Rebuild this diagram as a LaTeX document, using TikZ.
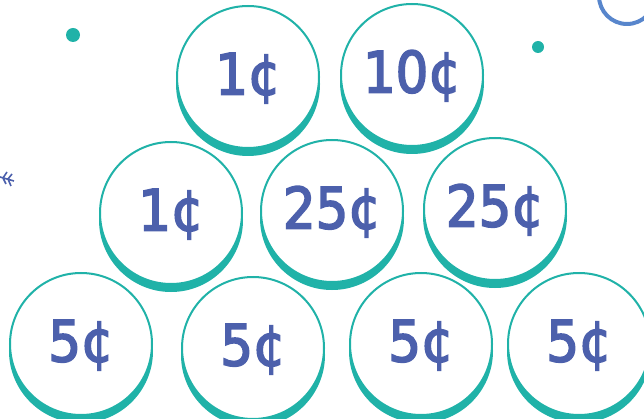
\documentclass[tikz,border=0pt]{standalone}
\usepackage{fontspec}
\usepackage{xcolor}
\usepackage{tikz}
\usetikzlibrary{positioning}
\newfontfamily\coinfont[FakeBold=3]{DejaVu Sans Condensed}
\definecolor{coinline}{RGB}{32,178,168}
\definecolor{cointext}{RGB}{76,96,172}
\definecolor{ringblue}{RGB}{88,134,204}

\begin{document}
\begin{tikzpicture}[x=1pt,y=-1pt,
  coin/.style={circle, draw=coinline, line width=2pt, fill=white,
    minimum size=142pt, inner sep=0pt, text=cointext,
    font=\coinfont\fontsize{57}{62}\selectfont,
    text height=35pt, text depth=0pt,
    preaction={fill=coinline, draw=coinline, transform canvas={yshift=-7pt}}},
  dot/.style={circle, fill=coinline, inner sep=0pt}]
  \useasboundingbox (0,0) rectangle (644,419);
  % decorations
  \node[dot, minimum size=14pt] (dotl) at (73,35) {};
  \node[dot, minimum size=12pt] (dotr) at (538,47) {};
  \draw[ringblue, line width=4pt] (627,-4) circle (28);
  \draw[cointext, line width=1.6pt] (0,177) -- (14,181)
    (7,172) -- (3,178) -- (6,184)
    (12,174) -- (8,179) -- (11,186);
  % bottom row
  \node[coin] (b1) at (81,344) {5¢};
  \node[coin] (b2) at (253,348) {5¢};
  \node[coin] (b3) at (421,344) {5¢};
  \node[coin] (b4) at (579,344) {5¢};
  % middle row
  \node[coin] (m1) at (171,213) {1¢};
  \node[coin] (m2) at (332,211) {25¢};
  \node[coin] (m3) at (495,209) {25¢};
  % top row
  \node[coin] (t1) at (248,77) {1¢};
  \node[coin] (t2) at (412,75) {10¢};
\end{tikzpicture}
\end{document}
